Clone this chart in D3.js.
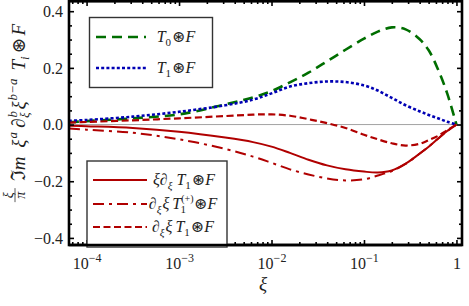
<!DOCTYPE html>
<html>
<head>
<meta charset="utf-8">
<script src="https://cdn.jsdelivr.net/npm/d3@7"></script>
<style>
  body { margin: 0; background: #fff; }
  svg { display: block; }
  text { font-family: "Liberation Serif", "DejaVu Serif", serif; fill: #222; }
</style>
</head>
<body>
<div id="chart"></div>
<script>
// xi grid and curve values
var xiVals = [6.46e-5, 1e-4, 3.16e-4, 1e-3, 3.16e-3, 6.31e-3, 1e-2, 1.58e-2, 2.51e-2, 3.98e-2,
              6.31e-2, 1e-1, 0.141, 0.2, 0.282, 0.398, 0.501, 0.631, 0.794, 1];
var t0Vals = [0.008, 0.012, 0.022, 0.036, 0.071, 0.096, 0.118, 0.149, 0.183, 0.223,
              0.264, 0.303, 0.328, 0.343, 0.336, 0.302, 0.262, 0.195, 0.11, 0];
var t1Vals = [0.013, 0.016, 0.028, 0.045, 0.068, 0.088, 0.11, 0.134, 0.146, 0.152,
              0.15, 0.138, 0.12, 0.094, 0.068, 0.047, 0.034, 0.022, 0.01, 0];
var dT1Vals = [0.007, 0.009, 0.015, 0.022, 0.03, 0.035, 0.036, 0.031, 0.019, 0.005,
               -0.012, -0.036, -0.052, -0.066, -0.074, -0.068, -0.055, -0.04, -0.02, 0];
var xidT1Vals = [-0.004, -0.006, -0.012, -0.025, -0.046, -0.062, -0.078, -0.1, -0.124, -0.144,
                 -0.158, -0.166, -0.169, -0.162, -0.138, -0.103, -0.078, -0.05, -0.023, 0];
var dT1pVals = [-0.014, -0.018, -0.029, -0.052, -0.086, -0.113, -0.135, -0.158, -0.176, -0.19,
                -0.197, -0.193, -0.18, -0.164, -0.139, -0.103, -0.078, -0.05, -0.023, 0];

var yTicks = [-0.4, -0.2, 0.0, 0.2, 0.4];
var xTicks = [1e-4, 1e-3, 1e-2, 1e-1, 1];

var W = 469, H = 306;
var L = 69, R = 462, T = 1, B = 245;

var svg = d3.select("#chart").append("svg")
    .attr("width", W)
    .attr("height", H);

var x = d3.scaleLog().domain([Math.pow(10, -4.19), Math.pow(10, 0.06)]).range([L, R]);
var y = d3.scaleLinear().domain([-0.425, 0.436]).range([B, T]);

svg.append("defs").append("clipPath").attr("id", "clip")
    .append("rect").attr("x", L).attr("y", T).attr("width", R - L).attr("height", B - T);

// zero line
svg.append("line")
    .attr("x1", L).attr("x2", R)
    .attr("y1", y(0)).attr("y2", y(0))
    .style("stroke", "#999")
    .style("stroke-width", 0.9);

var line = d3.line()
    .x(function (d) { return x(d[0]); })
    .y(function (d) { return y(d[1]); })
    .curve(d3.curveCatmullRom.alpha(0.5));

function pairs(vals) {
    return xiVals.map(function (v, i) { return [v, vals[i]]; });
}

var series = [
    {vals: t0Vals, color: "#006e00", dash: "10,6", width: 2.6},
    {vals: t1Vals, color: "#0000b4", dash: "3,2.2", width: 2.6},
    {vals: xidT1Vals, color: "#b00000", dash: null, width: 2},
    {vals: dT1pVals, color: "#b00000", dash: "11,5,3,5", width: 2},
    {vals: dT1Vals, color: "#b00000", dash: "7,3.5", width: 2.2}
];

var plot = svg.append("g").attr("clip-path", "url(#clip)");
series.forEach(function (s) {
    plot.append("path")
        .attr("d", line(pairs(s.vals)))
        .style("fill", "none")
        .style("stroke", s.color)
        .style("stroke-width", s.width)
        .style("stroke-dasharray", s.dash);
});

// ticks (inward on all sides)
var minorX = [];
for (var e = -5; e <= 0; e++) {
    for (var m = 2; m <= 9; m++) {
        var v = m * Math.pow(10, e);
        if (v > x.domain()[0] && v < x.domain()[1]) minorX.push(v);
    }
}
var minorY = [-0.35, -0.3, -0.25, -0.15, -0.1, -0.05, 0.05, 0.1, 0.15, 0.25, 0.3, 0.35];

function tickGroup(axis, tr) {
    var g = svg.append("g").attr("transform", tr).call(axis);
    g.select(".domain").remove();
    g.selectAll("line").style("stroke", "#000").style("stroke-width", 1.6);
    return g;
}

var xb = tickGroup(d3.axisBottom(x).tickValues(xTicks).tickSize(-5).tickPadding(10), "translate(0," + B + ")");
tickGroup(d3.axisBottom(x).tickValues(minorX).tickSize(-3).tickFormat(""), "translate(0," + B + ")");
tickGroup(d3.axisTop(x).tickValues(xTicks).tickSize(-5).tickFormat(""), "translate(0," + T + ")");
tickGroup(d3.axisTop(x).tickValues(minorX).tickSize(-3).tickFormat(""), "translate(0," + T + ")");
var yl = tickGroup(d3.axisLeft(y).tickValues(yTicks).tickSize(-5).tickPadding(6)
        .tickFormat(function (d) { return (d < 0 ? "\u2212" : "") + Math.abs(d).toFixed(1); }),
    "translate(" + L + ",0)");
tickGroup(d3.axisLeft(y).tickValues(minorY).tickSize(-3).tickFormat(""), "translate(" + L + ",0)");
tickGroup(d3.axisRight(y).tickValues(yTicks).tickSize(-5).tickFormat(""), "translate(" + R + ",0)");
tickGroup(d3.axisRight(y).tickValues(minorY).tickSize(-3).tickFormat(""), "translate(" + R + ",0)");

yl.selectAll("text").style("font-size", "16px").style("font-family", null).attr("fill", "#333");
xb.selectAll("text")
    .style("font-size", "16px").style("font-family", null).attr("fill", "#333")
    .attr("dy", "0.85em")
    .each(function (d) {
        var t = d3.select(this);
        t.text(null);
        if (d === 1) { t.text("1"); return; }
        t.append("tspan").text("10");
        t.append("tspan").attr("dy", -7).style("font-size", "12px")
            .text("\u2212" + Math.round(-Math.log10(d)));
    });

// frame
svg.append("rect")
    .attr("x", L).attr("y", T + 0.3)
    .attr("width", R - L).attr("height", B - T - 0.3)
    .style("fill", "none")
    .style("stroke", "#000")
    .style("stroke-width", 2.6);

// x label
svg.append("text")
    .attr("x", 263).attr("y", 290)
    .attr("text-anchor", "middle")
    .style("font-size", "19px")
    .style("font-style", "italic")
    .attr("fill", "#333")
    .text("\u03be");

// y label (rotated)
var yg = svg.append("g");
var frac = yg.append("g");
frac.append("text").attr("x", 7).attr("y", -12).attr("text-anchor", "middle").attr("fill", "#333")
    .style("font-size", "14px").style("font-style", "italic").text("\u03be");
frac.append("line").attr("x1", 0).attr("x2", 14).attr("y1", -10).attr("y2", -10)
    .style("stroke", "#333").style("stroke-width", 0.8);
frac.append("text").attr("x", 7).attr("y", 0).attr("text-anchor", "middle").attr("fill", "#333")
    .style("font-size", "14px").style("font-style", "italic").text("\u03c0");

var yt = yg.append("text").attr("x", 21).attr("y", 0).style("font-size", "19px").attr("fill", "#333");
yt.append("tspan").style("font-size", "20px").text("\u2111");
yt.append("tspan").style("font-style", "italic").text("m ");
yt.append("tspan").attr("dx", 4).style("font-style", "italic").text("\u03be");
yt.append("tspan").attr("dy", -8).attr("dx", 1).style("font-size", "13px").style("font-style", "italic").text("a");
yt.append("tspan").attr("dy", 8).attr("dx", 4).text("\u2202");
yt.append("tspan").attr("dy", -8).attr("dx", 1).style("font-size", "13px").style("font-style", "italic").text("b");
yt.append("tspan").attr("dy", 12).attr("dx", -7).style("font-size", "13px").style("font-style", "italic").text("\u03be");
yt.append("tspan").attr("dy", -4).attr("dx", 3).style("font-style", "italic").text("\u03be");
yt.append("tspan").attr("dy", -8).attr("dx", 1).style("font-size", "13px").style("font-style", "italic").text("b\u2212a");
yt.append("tspan").attr("dy", 8).attr("dx", 8).style("font-style", "italic").text("T");
yt.append("tspan").attr("dy", 4).style("font-size", "13px").style("font-style", "italic").text("i");
yt.append("tspan").attr("dy", -4).attr("dx", 3).text("\u229b");
yt.append("tspan").attr("dx", 2).style("font-style", "italic").text("F");

var yw = 21 + yt.node().getComputedTextLength() + 30;
yg.attr("transform", "translate(25," + (108 + yw / 2) + ") rotate(-90)");

// legends
function legendText(g, cx, cy, parts) {
    var t = g.append("text").attr("x", cx).attr("y", cy + 5)
        .attr("text-anchor", "middle").style("font-size", "16px").attr("fill", "#444");
    parts.forEach(function (p) {
        var s = t.append("tspan").text(p[0]);
        if (p[1]) s.style("font-style", "italic");
        if (p[2]) s.attr("dy", p[2]);
        if (p[3]) s.style("font-size", p[3] + "px");
        if (p[4]) s.attr("dx", p[4]);
    });
}

var lg1 = svg.append("g");
lg1.append("rect").attr("x", 89.5).attr("y", 17.5).attr("width", 123).attr("height", 70)
    .style("fill", "#fff").style("stroke", "#333").style("stroke-width", 1.4);
[[series[0], 37], [series[1], 68]].forEach(function (r) {
    lg1.append("line").attr("x1", 96).attr("x2", 146).attr("y1", r[1]).attr("y2", r[1])
        .style("stroke", r[0].color).style("stroke-width", r[0].width)
        .style("stroke-dasharray", r[0].dash);
});
legendText(lg1, 176, 37, [["T", true], ["0", false, 4, 11], ["\u229b", false, -4, null, 1], ["F", true]]);
legendText(lg1, 176, 68, [["T", true], ["1", false, 4, 11], ["\u229b", false, -4, null, 1], ["F", true]]);

var lg2 = svg.append("g");
lg2.append("rect").attr("x", 87).attr("y", 161).attr("width", 140).attr("height", 86)
    .style("fill", "#fff").style("stroke", "#333").style("stroke-width", 1.4);
[[series[2], 180], [series[3], 204], [series[4], 227]].forEach(function (r) {
    lg2.append("line").attr("x1", 93).attr("x2", 147).attr("y1", r[1]).attr("y2", r[1])
        .style("stroke", r[0].color).style("stroke-width", r[0].width)
        .style("stroke-dasharray", r[0].dash);
});
legendText(lg2, 184, 180, [["\u03be", true], ["\u2202", false], ["\u03be", true, 4, 11],
    ["T", true, -4, null, 4], ["1", false, 4, 11], ["\u229b", false, -4, null, 1], ["F", true]]);
legendText(lg2, 183, 204, [["\u2202", false], ["\u03be", true, 4, 11], ["\u03be", true, -4, null, 1],
    ["T", true, 0, null, 3], ["(+)", false, -7, 10], ["1", false, 11, 11, -13],
    ["\u229b", false, -4, null, 8], ["F", true]]);
legendText(lg2, 183, 227, [["\u2202", false], ["\u03be", true, 4, 11], ["\u03be", true, -4, null, 1],
    ["T", true, 0, null, 3], ["1", false, 4, 11], ["\u229b", false, -4, null, 1], ["F", true]]);

// redraw frame bottom over legend box
svg.append("line").attr("x1", L).attr("x2", R).attr("y1", B).attr("y2", B)
    .style("stroke", "#000").style("stroke-width", 2.6);
</script>
</body>
</html>
